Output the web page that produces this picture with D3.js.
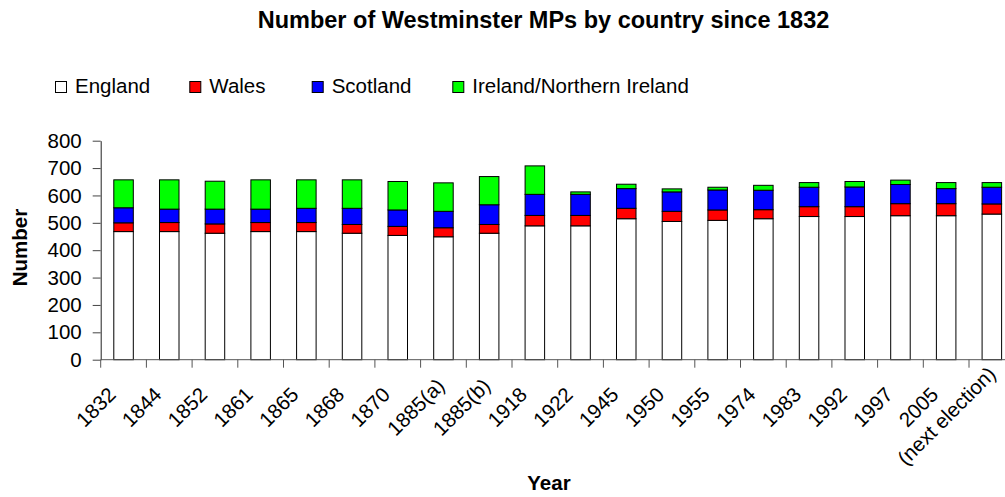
<!DOCTYPE html>
<html>
<head>
<meta charset="utf-8">
<script src="https://cdn.jsdelivr.net/npm/d3@7"></script>
<style>
  html, body { margin: 0; padding: 0; background: #fff; }
  svg { display: block; font-family: "Liberation Sans", Arial, sans-serif; }
</style>
</head>
<body>
<svg id="chart" width="1005" height="497"></svg>
<script>
const categories = ["1832","1844","1852","1861","1865","1868","1870","1885(a)","1885(b)","1918","1922","1945","1950","1955","1974","1983","1992","1997","2005","(next election)"];
const england  = [468,468,462,468,468,462,454,449,462,489,489,515,505,509,515,523,523,526,526,532];
const wales    = [32,33,34,33,33,32,33,33,32,38,38,38,37,38,33,36,36,44,44,37];
const scotland = [55,49,54,49,52,59,60,60,72,77,77,72,71,73,71,71,72,70,55,61];
const ireland  = [102,107,102,107,104,104,104,104,103,104,9,16,11,10,18,17,20,16,22,17];
const seriesNames = ["England","Wales","Scotland","Ireland/Northern Ireland"];
const seriesColors = ["#ffffff","#ff0000","#0000ff","#00ff00"];
const yTicks = [0,100,200,300,400,500,600,700,800];

(function () {
const svg = d3.select("#chart");
const pLeft = 100.7, pRight = 1014.7, pTop = 140.7, pBottom = 359.7;

const rows = categories.map((c, i) => ({cat: c, England: england[i], Wales: wales[i], Scotland: scotland[i], "Ireland/Northern Ireland": ireland[i]}));
const stack = d3.stack().keys(seriesNames)(rows);

const x = d3.scaleBand().domain(categories).range([pLeft, pRight]).paddingInner(0.573).paddingOuter(0.2865);
const y = d3.scaleLinear().domain([0, 800]).range([pBottom, pTop]);
const color = d3.scaleOrdinal().domain(seriesNames).range(seriesColors);

// Title
svg.append("text").attr("x", 543.5).attr("y", 28).attr("text-anchor", "middle")
  .attr("font-weight", "bold").attr("font-size", "23.5px").attr("fill", "#000")
  .text("Number of Westminster MPs by country since 1832");

// Legend
const legendX = [55, 189.3, 311.7, 452.3];
const lg = svg.append("g");
seriesNames.forEach((s, i) => {
  lg.append("rect").attr("x", legendX[i] + 0.5).attr("y", 81.5).attr("width", 11).attr("height", 11)
    .attr("fill", color(s)).attr("stroke", "#000").attr("stroke-width", 1);
  lg.append("text").attr("x", legendX[i] + 20).attr("y", 93.3).attr("font-size", "20.5px").attr("fill", "#000").text(s);
});

// Bars
svg.append("g").selectAll("g").data(stack).join("g")
  .attr("fill", d => color(d.key))
  .selectAll("rect").data(d => d).join("rect")
  .attr("x", d => x(d.data.cat))
  .attr("y", d => y(d[1]))
  .attr("width", x.bandwidth())
  .attr("height", d => y(d[0]) - y(d[1]))
  .attr("stroke", "#000").attr("stroke-width", 1);

// Y axis
const yAxis = d3.axisLeft(y).tickValues(yTicks).tickSize(8).tickPadding(11).tickSizeOuter(0);
const yg = svg.append("g").attr("transform", `translate(${pLeft},0)`).call(yAxis);
yg.select(".domain").attr("stroke", "#222");
yg.selectAll(".tick line").attr("stroke", "#444");
yg.selectAll(".tick text").attr("font-size", "20.5px").attr("font-family", "Liberation Sans, Arial, sans-serif").attr("fill", "#000");

// X axis line
svg.append("line").attr("x1", pLeft).attr("x2", pRight).attr("y1", pBottom).attr("y2", pBottom)
  .attr("stroke", "#555").attr("stroke-width", 1);
// X ticks at band boundaries
const edges = categories.map(c => x(c) - x.step() * x.paddingOuter());
edges.push(pRight);
svg.append("g").selectAll("line").data(edges).join("line")
  .attr("x1", d => d).attr("x2", d => d).attr("y1", pBottom).attr("y2", pBottom + 8)
  .attr("stroke", "#555").attr("stroke-width", 1);
// X labels: centred on a point below each band, rotated -45deg; clamped to stay inside the picture
const c45 = Math.SQRT1_2;
svg.append("g").selectAll("text").data(categories).join("text")
  .attr("text-anchor", "middle").attr("font-size", "20.5px").attr("fill", "#000")
  .text(d => d)
  .each(function (d) {
    const L = this.getComputedTextLength();
    let cx = x(d) + x.bandwidth() / 2 - 22.6;
    let cy = 412.1;
    const endX = cx + (L / 2) * c45;
    if (endX > 997) {
      const over = endX - 997;
      cx -= over;
      cy += over * 0.5;
    }
    d3.select(this).attr("transform", `translate(${cx},${cy}) rotate(-45)`);
  });

// Axis titles
svg.append("text").attr("transform", "translate(27.3,247.5) rotate(-90)").attr("text-anchor", "middle")
  .attr("font-weight", "bold").attr("font-size", "20.5px").attr("fill", "#000").text("Number");
svg.append("text").attr("x", 549).attr("y", 490).attr("text-anchor", "middle")
  .attr("font-weight", "bold").attr("font-size", "20.5px").attr("fill", "#000").text("Year");
})();
</script>
</body>
</html>
